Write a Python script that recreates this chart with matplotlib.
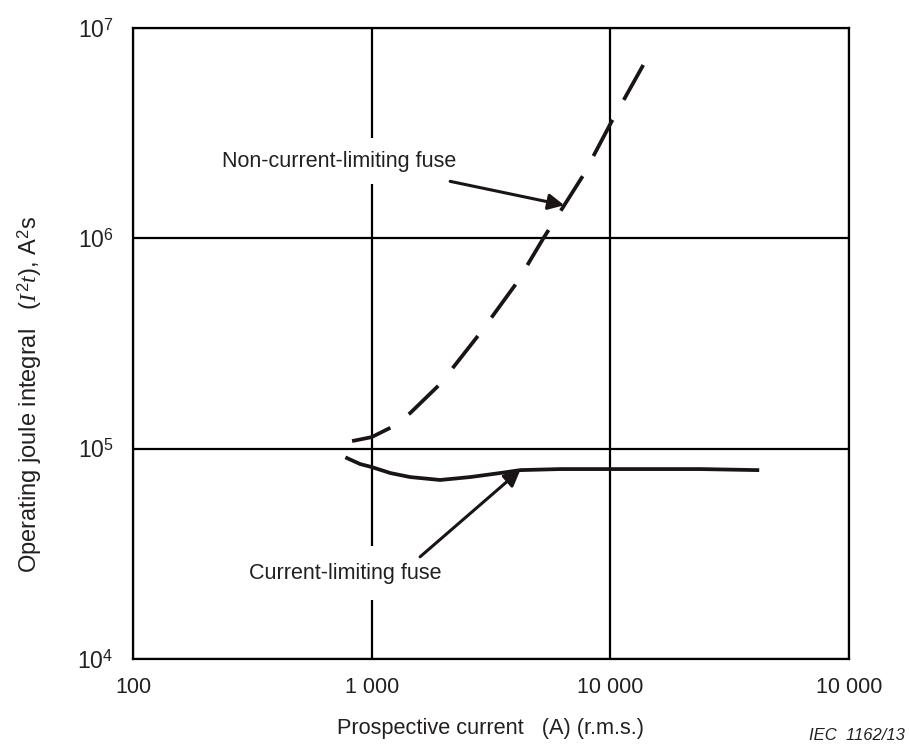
import numpy as np
import matplotlib
matplotlib.use('Agg')
import matplotlib.pyplot as plt

plt.rcParams['font.family'] = ['Liberation Sans', 'DejaVu Sans']
plt.rcParams['mathtext.fontset'] = 'custom'
plt.rcParams['mathtext.rm'] = 'Liberation Sans'
plt.rcParams['mathtext.it'] = 'Liberation Serif:italic'

################################### Data ###################################

# Non-current-limiting fuse (dashed)
ncl_current = [828, 1000, 1219, 1449, 1936, 2851, 4077, 5238, 7711, 10097, 13740]
ncl_i2t = [1.087e5, 1.135e5, 1.27e5, 1.476e5, 2.03e5, 3.55e5, 6.2e5, 1.0e6, 2.0e6, 3.57e6, 6.67e6]

# Current-limiting fuse (solid)
cl_current = [789, 895, 1000, 1197, 1449, 1936, 2588, 3454, 4195, 6173, 10097, 23820, 41300]
cl_i2t = [9.02e4, 8.45e4, 8.18e4, 7.66e4, 7.33e4, 7.10e4, 7.33e4, 7.66e4, 7.91e4, 8.0e4, 8.0e4, 8.0e4, 7.91e4]

x_ticks = [100, 1000, 10000, 100000]
x_ticklabels = ['100', '1 000', '10 000', '10 000']
y_ticks = [1e4, 1e5, 1e6, 1e7]
y_ticklabels = ['$10^{4}$', '$10^{5}$', '$10^{6}$', '$10^{7}$']

# points on each curve the arrows point at
ncl_arrow_x = 6412
cl_arrow_x = 4195

################################### Plotting ###################################

txt_col = '#231f20'

fig = plt.figure(figsize=(9.09, 7.45), dpi=100)
ax = fig.add_axes([0.1463, 0.1154, 0.7877, 0.847])

ax.set_xscale('log')
ax.set_yscale('log')
ax.set_xlim(100, 100000)
ax.set_ylim(1e4, 1e7)

ax.plot(ncl_current, ncl_i2t, color='#1a1414', lw=2.7, linestyle=(0, (10.9, 6.1)), zorder=3)
ax.plot(cl_current, cl_i2t, color='#1a1414', lw=2.7, zorder=3)

ax.set_xticks(x_ticks)
ax.set_xticklabels(x_ticklabels)
ax.set_yticks(y_ticks)
ax.set_yticklabels(y_ticklabels)
ax.minorticks_off()
ax.tick_params(axis='both', length=0, labelsize=15.5, colors=txt_col)
ax.tick_params(axis='x', pad=13)
ax.tick_params(axis='y', pad=14)
for lab in ax.get_yticklabels():
    lab.set_fontsize(16.5)

ax.grid(which='major', color='black', lw=1.6, zorder=1)
for s in ax.spines.values():
    s.set_linewidth(1.6)
    s.set_color('black')

ax.set_xlabel('Prospective current   (A) (r.m.s.)', fontsize=15.7, color=txt_col)
ax.xaxis.set_label_coords(0.5, -0.093)
ax.set_ylabel('Operating joule integral   ($I^2t$), A$^2$s', fontsize=17, color=txt_col)
ax.yaxis.set_label_coords(-0.124, 0.42)

# curve labels (white box breaks the grid line behind them)
ax.text(0.288, 0.789, 'Non-current-limiting fuse', transform=ax.transAxes, fontsize=15.5,
        color=txt_col, ha='center', va='center', zorder=2,
        bbox=dict(facecolor='white', edgecolor='none', pad=9))
ax.text(0.296, 0.136, 'Current-limiting fuse', transform=ax.transAxes, fontsize=15.5,
        color=txt_col, ha='center', va='center', zorder=2,
        bbox=dict(facecolor='white', edgecolor='none', pad=12))

ncl_tip = np.exp(np.interp(np.log(ncl_arrow_x), np.log(ncl_current), np.log(ncl_i2t)))
cl_tip = np.exp(np.interp(np.log(cl_arrow_x), np.log(cl_current), np.log(cl_i2t)))

ax.annotate('', xy=(ncl_arrow_x, ncl_tip), xycoords='data',
            xytext=(0.443, 0.757), textcoords='axes fraction',
            arrowprops=dict(arrowstyle='-|>', color='#1a1414', lw=2.2,
                            mutation_scale=24, shrinkA=0, shrinkB=0), zorder=4)
ax.annotate('', xy=(cl_arrow_x, cl_tip), xycoords='data',
            xytext=(0.401, 0.162), textcoords='axes fraction',
            arrowprops=dict(arrowstyle='-|>', color='#1a1414', lw=2.2,
                            mutation_scale=24, shrinkA=0, shrinkB=0), zorder=4)

fig.text(0.995, 0.013, 'IEC  1162/13', fontsize=12, style='italic', color=txt_col,
         ha='right', va='center')

plt.savefig('out.png', dpi=100)
